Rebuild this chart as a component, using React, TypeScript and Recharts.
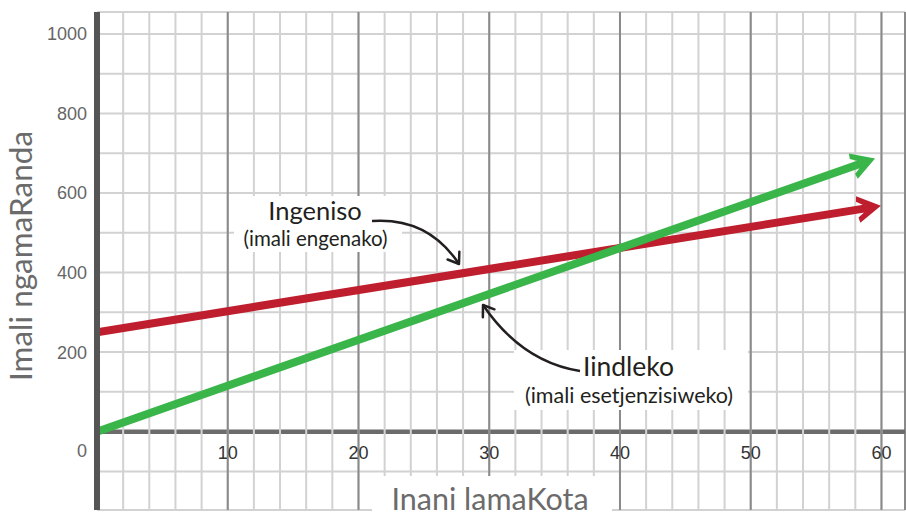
import React from "react";
import { CartesianGrid, Label, Line, LineChart, ReferenceDot, ReferenceLine, XAxis, YAxis } from "recharts";

// straight lines (end points sit under the arrow heads)
const incomeX = [0, 58.9];
const incomeY = [250, 562];
const expenseX = [0, 58.5];
const expenseY = [0, 675];

const xLabels = [10, 20, 30, 40, 50, 60];
const yLabels = [0, 200, 400, 600, 800, 1000];
const minorXTicks = [0, 2, 4, 6, 8, 10, 12, 14, 16, 18, 20, 22, 24, 26, 28, 30, 32, 34, 36, 38, 40, 42, 44, 46, 48, 50, 52, 54, 56, 58, 60];
const majorXTicks = [0, 10, 20, 30, 40, 50, 60];
const minorYTicks = [-150, -100, -50, 0, 50, 100, 150, 200, 250, 300, 350, 400, 450, 500, 550, 600, 650, 700, 750, 800, 850, 900, 950, 1000];

const incomeData = incomeX.map((x, i) => ({ x, v: incomeY[i] }));
const expenseData = expenseX.map((x, i) => ({ x, v: expenseY[i] }));

const RED = "#be1e2d";
const GREEN = "#39b54a";
const INK = "#231f20";
const tickFont = "'Liberation Sans', Arial, sans-serif";
const noteFont = "Lato, 'Noto Sans', sans-serif";

function YTick(props: any) {
  const { x, y, payload } = props;
  // the "0" sits lower in the original, at the origin corner
  const dy = payload.value === 0 ? 19 : 0;
  return (
    <text x={x} y={y + dy} dy="0.36em" textAnchor="end" fill="#666" fontSize={18} fontFamily={tickFont}>
      {payload.value}
    </text>
  );
}

export default function App() {
  return (
    <div style={{ position: "absolute", left: 0, top: 0, width: 906, height: 516, background: "#fff" }}>
      <LineChart width={906} height={516} margin={{ top: 12, right: 1, bottom: 6, left: 0 }}>
        <XAxis xAxisId="minor" dataKey="x" type="number" domain={[0, 61.8]} ticks={minorXTicks} hide allowDataOverflow />
        <XAxis xAxisId="major" dataKey="x" type="number" domain={[0, 61.8]} ticks={majorXTicks} hide allowDataOverflow />
        <YAxis yAxisId="minor" type="number" domain={[-197, 1055]} ticks={minorYTicks} hide allowDataOverflow />
        <YAxis
          yAxisId="main"
          type="number"
          domain={[-197, 1055]}
          ticks={yLabels}
          interval={0}
          width={97}
          allowDataOverflow
          axisLine={{ stroke: "#555", strokeWidth: 6 }}
          tickLine={false}
          tickSize={0}
          tickMargin={10}
          tick={<YTick />}
        />
        <CartesianGrid xAxisId="minor" yAxisId="minor" stroke="#d2d2d2" strokeWidth={2} />
        <CartesianGrid xAxisId="major" yAxisId="minor" horizontal={false} stroke="#8a8a8a" strokeWidth={2} />
        <ReferenceLine
          xAxisId="major"
          yAxisId="main"
          y={0}
          stroke="#6b6b6b"
          strokeWidth={4.5}
          strokeDasharray="24.15 2"
          strokeDashoffset={-1}
        />
        {xLabels.map((v) => (
          <ReferenceDot key={v} xAxisId="major" yAxisId="main" x={v} y={0} r={0} stroke="none" fill="none">
            <Label value={v} position="bottom" offset={15} fill="#333" fontSize={18} fontFamily={tickFont} />
          </ReferenceDot>
        ))}
        <Line
          xAxisId="major"
          yAxisId="main"
          data={incomeData}
          dataKey="v"
          type="linear"
          stroke={RED}
          strokeWidth={8}
          strokeLinecap="round"
          dot={false}
          activeDot={false}
          markerEnd="url(#headRed)"
          isAnimationActive={false}
        />
        <Line
          xAxisId="major"
          yAxisId="main"
          data={expenseData}
          dataKey="v"
          type="linear"
          stroke={GREEN}
          strokeWidth={8}
          strokeLinecap="round"
          dot={false}
          activeDot={false}
          markerEnd="url(#headGreen)"
          isAnimationActive={false}
        />
      </LineChart>

      <svg width={906} height={516} style={{ position: "absolute", left: 0, top: 0, pointerEvents: "none" }}>
        <defs>
          <marker id="headRed" markerUnits="userSpaceOnUse" markerWidth={40} markerHeight={40} viewBox="-20 -20 40 40" refX={0} refY={0} orient="auto">
            <path d="M14,0 L-9,-13.5 L-10,-8 L-4,-4 L-4,4 L-10,8 L-9,13.5 Z" fill={RED} />
          </marker>
          <marker id="headGreen" markerUnits="userSpaceOnUse" markerWidth={40} markerHeight={40} viewBox="-20 -20 40 40" refX={0} refY={0} orient="auto">
            <path d="M14,0 L-9,-13.5 L-10,-8 L-4,-4 L-4,4 L-10,8 L-9,13.5 Z" fill={GREEN} />
          </marker>
          <marker id="openHead" markerUnits="userSpaceOnUse" markerWidth={30} markerHeight={30} viewBox="-15 -15 30 30" refX={0} refY={0} orient="auto">
            <path d="M-10,-7 L0,0 L-10,7" fill="none" stroke={INK} strokeWidth={2.5} strokeLinecap="round" strokeLinejoin="round" />
          </marker>
        </defs>

        {/* axis titles */}
        <text x={32} y={256} transform="rotate(-90 32 256)" textAnchor="middle" fill="#6b6b6b" fontSize={31.5} fontFamily={noteFont}>
          Imali ngamaRanda
        </text>
        <rect x={372} y={476} width={240} height={40} fill="#fff" />
        <text x={490} y={510} textAnchor="middle" fill="#6b6b6b" fontSize={30.5} fontFamily={noteFont}>
          Inani lamaKota
        </text>

        {/* income note */}
        <rect x={234} y={196} width={168} height={56} fill="#fff" />
        <text x={315} y={220} textAnchor="middle" fill={INK} fontSize={25.5} fontFamily={noteFont}>
          Ingeniso
        </text>
        <text x={315.5} y={246} textAnchor="middle" fill={INK} fontSize={20.5} fontFamily={noteFont}>
          (imali engenako)
        </text>
        <path d="M372,221 Q428,217 459,264" fill="none" stroke={INK} strokeWidth={2.5} markerEnd="url(#openHead)" />

        {/* expense note */}
        <rect x={514} y={350} width={234} height={60} fill="#fff" />
        <text x={628.5} y={376} textAnchor="middle" fill={INK} fontSize={26.5} fontFamily={noteFont}>
          Iindleko
        </text>
        <text x={629} y={403} textAnchor="middle" fill={INK} fontSize={21.5} fontFamily={noteFont}>
          (imali esetjenzisiweko)
        </text>
        <path d="M580,371 Q522,362 483,305" fill="none" stroke={INK} strokeWidth={2.5} markerEnd="url(#openHead)" />
      </svg>
    </div>
  );
}
